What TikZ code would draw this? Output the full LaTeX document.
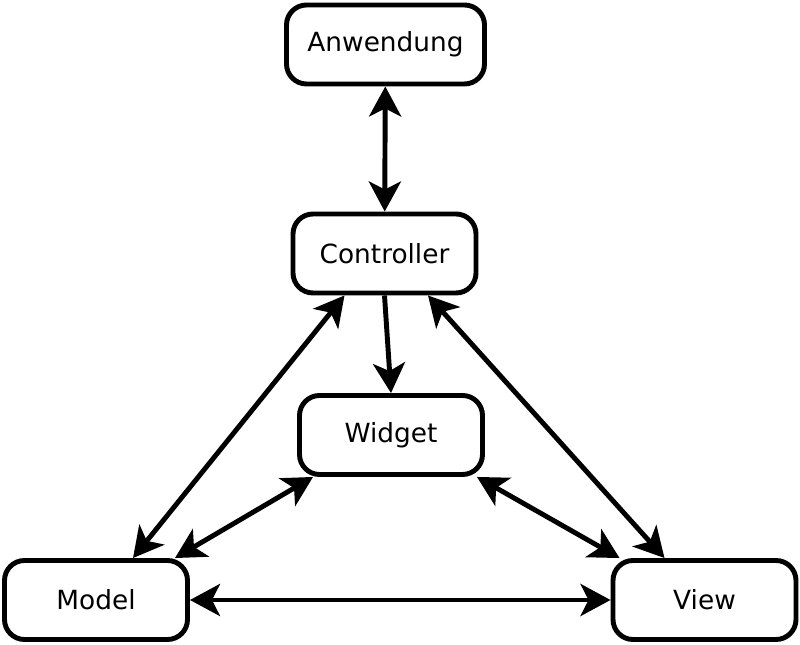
\documentclass[tikz,border=0pt]{standalone}
\usepackage{fontspec}
\setmainfont{DejaVu Sans}
\usepackage{tikz}
\usetikzlibrary{arrows.meta}

\begin{document}
\begin{tikzpicture}[every node/.style={font=\fontsize{15}{18}\selectfont},
        box/.style={draw=black, line width=2.8pt, rounded corners=0.4cm,
        minimum width=3.66cm, minimum height=1.58cm, inner sep=0pt},
        link/.style={line width=2.8pt, {Stealth[length=0.6cm,width=0.64cm,inset=0.16cm]}-{Stealth[length=0.6cm,width=0.64cm,inset=0.16cm]}},
        push/.style={line width=2.8pt, -{Stealth[length=0.6cm,width=0.64cm,inset=0.16cm]}}]
        \useasboundingbox (0,0) rectangle (16,12.88);
        % boxes
        \node[box, minimum width=3.96cm] (app) at (7.71,11.99) {Anwendung};
        \node[box] (ctrl) at (7.69,7.81) {Controller};
        \node[box] (widget) at (7.82,4.18) {Widget};
        \node[box] (model) at (1.92,0.88) {Model};
        \node[box] (view) at (14.09,0.88) {View};
        % connections
        \draw[link] (app) -- (ctrl);
        \draw[push] (ctrl.south) -- (widget.north);
        \draw[link] ([xshift=-0.8cm]ctrl.south) -- ([xshift=0.74cm]model.north);
        \draw[link] ([xshift=0.87cm]ctrl.south) -- ([xshift=-0.8cm]view.north);
        \draw[link] ([xshift=0.32cm]widget.south west) -- ([xshift=-0.3cm]model.north east);
        \draw[link] ([xshift=-0.16cm]widget.south east) -- ([xshift=0.18cm]view.north west);
        \draw[link] (model) -- (view);
\end{tikzpicture}
\end{document}
